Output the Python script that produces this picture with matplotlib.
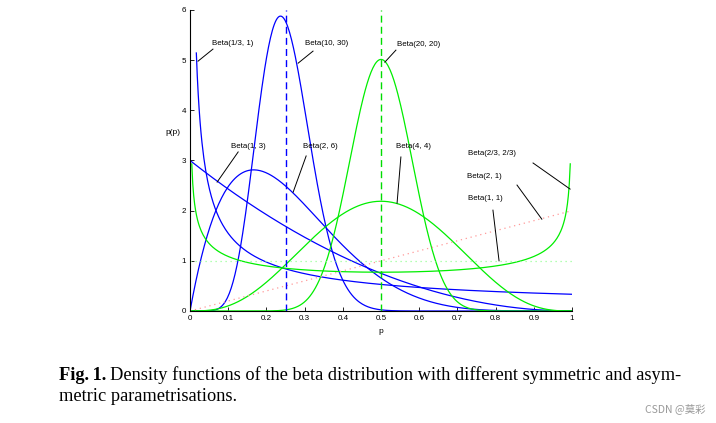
import math
import numpy as np
import matplotlib
matplotlib.use("Agg")
import matplotlib.pyplot as plt

# beta parameters (a, b), colour, line style, first / last x sample
blue_params = [(1/3, 1), (10, 30), (1, 3), (2, 6)]
green_params = [(20, 20), (4, 4), (2/3, 2/3)]
dotted_params = [(2, 1), (1, 1)]
dotted_colors = ["#ff9999", "#99ff99"]
x_start = {(1/3, 1): 0.0165, (2/3, 2/3): 0.0046}
x_end = {(2/3, 2/3): 0.9954}
mean_lines = [0.25, 0.5]
mean_colors = ["#0000ff", "#00dd00"]

# labels: text, text pos, line start, line end (data units)
labels = ["Beta(1/3, 1)", "Beta(10, 30)", "Beta(20, 20)", "Beta(1, 3)", "Beta(2, 6)",
          "Beta(4, 4)", "Beta(2/3, 2/3)", "Beta(2, 1)", "Beta(1, 1)"]
label_xy = [(0.058, 5.34), (0.301, 5.34), (0.542, 5.32), (0.107, 3.27), (0.296, 3.27),
            (0.539, 3.27), (0.728, 3.13), (0.725, 2.69), (0.728, 2.25)]
line_from = [(0.06, 5.22), (0.322, 5.18), (0.539, 5.2), (0.126, 3.17), (0.304, 3.09),
             (0.552, 3.07), (0.898, 2.95), (0.856, 2.51), (0.793, 2.01)]
line_to = [(0.021, 4.98), (0.283, 4.94), (0.510, 4.96), (0.071, 2.57), (0.270, 2.37),
           (0.542, 2.15), (0.995, 2.43), (0.921, 1.83), (0.809, 1.0)]

xticks = [0, 0.1, 0.2, 0.3, 0.4, 0.5, 0.6, 0.7, 0.8, 0.9, 1]
xtick_labels = ["0", "0.1", "0.2", "0.3", "0.4", "0.5", "0.6", "0.7", "0.8", "0.9", "1"]
yticks = [0, 1, 2, 3, 4, 5, 6]


def beta_pdf(x, a, b):
    B = math.gamma(a) * math.gamma(b) / math.gamma(a + b)
    return x ** (a - 1) * (1 - x) ** (b - 1) / B


def xs(p):
    return np.linspace(x_start.get(p, 0.0), x_end.get(p, 1.0), 400)


fig = plt.figure(figsize=(7.16, 4.23), dpi=100)
ax = fig.add_axes([0.2654, 0.2648, 0.5335, 0.7116])

for p in blue_params:
    x = xs(p)
    ax.plot(x, beta_pdf(x, *p), color="#0000ff", lw=0.9)
for p in green_params:
    x = xs(p)
    ax.plot(x, beta_pdf(x, *p), color="#00ee00", lw=0.9)
for p, c in zip(dotted_params, dotted_colors):
    x = xs(p)
    ax.plot(x, beta_pdf(x, *p), color=c, lw=0.9, ls=(0, (1, 3)))
for m, c in zip(mean_lines, mean_colors):
    ax.plot([m, m], [0, 6], color=c, lw=1.0, ls=(0, (5, 3)))

for t, xy, a, b in zip(labels, label_xy, line_from, line_to):
    ax.text(xy[0], xy[1], t, fontsize=5.7, family="Liberation Sans", va="center", ha="left")
    ax.plot([a[0], b[0]], [a[1], b[1]], color="black", lw=0.7)

ax.set_xlim(0, 1)
ax.set_ylim(0, 6)
ax.set_xticks(xticks)
ax.set_xticklabels(xtick_labels)
ax.set_yticks(yticks)
ax.tick_params(direction="in", length=3, width=0.6, labelsize=5.8, pad=3)
for lab in ax.get_xticklabels() + ax.get_yticklabels():
    lab.set_family("Liberation Sans")
ax.spines["top"].set_visible(False)
ax.spines["right"].set_visible(False)
ax.spines["left"].set_linewidth(0.8)
ax.spines["bottom"].set_linewidth(0.8)
ax.set_xlabel("p", fontsize=6, family="Liberation Sans", labelpad=4)
ax.text(-0.045, 3.55, "p(p)", fontsize=6, family="Liberation Sans", ha="center", va="center")

cap_size = 13.2
fig.text(0.083, 0.1017, "Fig.\u20091.", fontsize=cap_size, family="Liberation Serif",
         weight="bold", va="baseline")
fig.text(0.153, 0.1017, "Density functions of the beta distribution with different symmetric and asym-",
         fontsize=cap_size, family="Liberation Serif", va="baseline")
fig.text(0.083, 0.052, "metric parametrisations.", fontsize=cap_size, family="Liberation Serif",
         va="baseline")
fig.text(0.985, 0.025, "CSDN @莫彩", fontsize=7.5, color="#999999", ha="right",
         family=["Noto Sans CJK SC", "DejaVu Sans"])

fig.savefig("out.png", dpi=100)
